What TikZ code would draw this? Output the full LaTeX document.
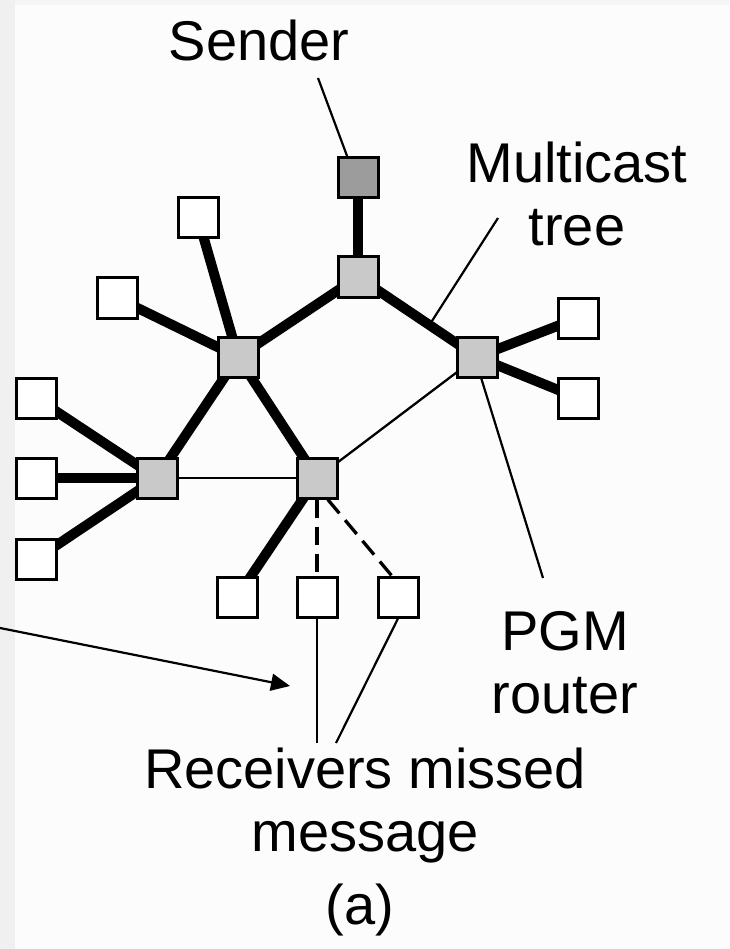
\documentclass[tikz,border=0pt]{standalone}
\usepackage{fontspec}
\setmainfont{Liberation Sans}
\usetikzlibrary{arrows.meta,calc}
\pgfdeclarelayer{bg}
\pgfdeclarelayer{edges}
\pgfsetlayers{bg,edges,main}
\begin{document}
\begin{tikzpicture}[x=1pt,y=-1pt,
  box/.style={draw,line width=3pt,minimum size=40pt,inner sep=0pt,fill=white},
  router/.style={box,fill=gray!42},
  sendbox/.style={box,fill=gray!78},
  tree/.style={line width=10pt},
  link/.style={line width=2.3pt},
  lost/.style={line width=3.3pt,dash pattern=on 18pt off 9pt},
  leader/.style={line width=2.2pt},
  lbl/.style={font=\fontsize{56}{63}\selectfont,align=center,inner sep=0pt}]
% page
\begin{pgfonlayer}{bg}
\fill[white!99!black] (0,0) rectangle (729,949);
\fill[gray!12] (0,0) rectangle (15,949);
\fill[gray!8] (15,0) rectangle (729,5);
\end{pgfonlayer}
\useasboundingbox (0,0) rectangle (729,949);

% routers and hosts
\node[sendbox] (snd) at (358,178) {};
\node[router] (rt)  at (358,277) {};
\node[router] (rul) at (238,357) {};
\node[router] (rr)  at (477,357) {};
\node[router] (rl)  at (157,478) {};
\node[router] (rm)  at (317,478) {};
\node[box] (h1) at (198,218) {};
\node[box] (h2) at (117,298) {};
\node[box] (h3) at (578,318) {};
\node[box] (h4) at (578,398) {};
\node[box] (h5) at (36,398) {};
\node[box] (h6) at (36,478) {};
\node[box] (h7) at (36,559) {};
\node[box] (b1) at (237,597) {};
\node[box] (b2) at (317,597) {};
\node[box] (b3) at (398,597) {};

% links
\begin{pgfonlayer}{edges}
\draw[tree] (snd.center) -- (rt.center);
\draw[tree] (rt.center) -- (rul.center);
\draw[tree] (rt.center) -- (rr.center);
\draw[tree] (rul.center) -- (h1.center);
\draw[tree] (rul.center) -- (h2.center);
\draw[tree] (rul.center) -- (rl.center);
\draw[tree] (rul.center) -- (rm.center);
\draw[tree] (rr.center) -- (h3.center);
\draw[tree] (rr.center) -- (h4.center);
\draw[tree] (rl.center) -- (h5.center);
\draw[tree] (rl.center) -- (h6.center);
\draw[tree] (rl.center) -- (h7.center);
\draw[tree] (rm.center) -- (b1.center);
\draw[link] (rl.center) -- (rm.center);
\draw[link] (rm.center) -- (rr.center);
\draw[lost] (rm.south) -- (b2.north);
\draw[lost] ($(rm.south)!0.5!(rm.south east)$) -- ($(b3.north)!0.3!(b3.north west)$);
\end{pgfonlayer}

% labels
\node[lbl] (tsnd) at (259,40) {Sender};
\node[lbl] (tmc) at (577,194) {Multicast\\tree};
\node[lbl] (tpgm) at (565,663) {PGM\\router};
\node[lbl] (trcv) at (365,806) {Receivers missed\\message};
\node[lbl] (ta) at (360,910) {(a)};

% leaders
\coordinate (ls) at (318,78);
\coordinate (lm) at (498,218);
\coordinate (lp) at (543,578);
\coordinate (lr1) at (317,743);
\coordinate (lr2) at (336,743);
\coordinate (la) at (0,628);
\coordinate (lat) at (290,686);
\draw[leader] (ls) -- ($(snd.north west)!0.25!(snd.north east)$);
\draw[leader] (lm) -- ($(rt)!0.6!(rr)$);
\draw[leader] ($(rr.south)!0.2!(rr.south east)$) -- (lp);
\draw[leader] (b2.south) -- (lr1);
\draw[leader] (b3.south) -- (lr2);
\draw[leader,-{Triangle[length=19pt,width=17pt]}] (la) -- (lat);
\end{tikzpicture}
\end{document}
